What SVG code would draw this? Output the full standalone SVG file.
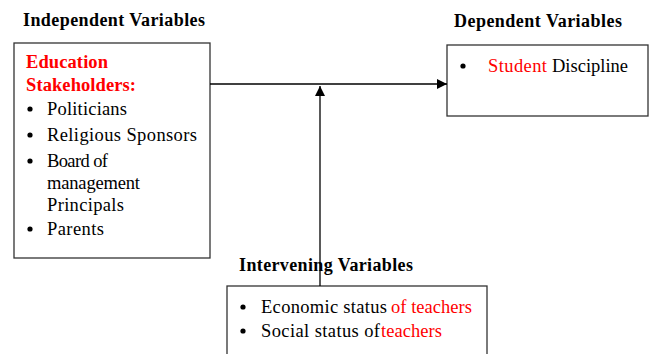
<svg xmlns="http://www.w3.org/2000/svg" width="649" height="354" viewBox="0 0 649 354">
<style>
text{font-family:"Liberation Serif","Times New Roman",serif;font-size:18.5px;fill:#000}
.h{font-weight:bold;font-size:18px}
.r{fill:#ff0000}
.box{fill:#fff;stroke:#333;stroke-width:1.3}
.ln{stroke:#000;stroke-width:1.3;fill:none}
</style>
<defs>
<marker id="ah" viewBox="0 0 10 10" refX="10" refY="5" markerWidth="10" markerHeight="10" markerUnits="userSpaceOnUse" orient="auto">
<path d="M0,0 L10,5 L0,10 z" fill="#000"/>
</marker>
</defs>
<rect width="649" height="354" fill="#fff"/>
<g id="independent">
<text class="h" x="23" y="26" textLength="182">Independent Variables</text>
<rect class="box" x="14" y="43" width="196" height="215"/>
<text class="h r" x="26" y="68" style="font-size:18.5px" textLength="82">Education</text>
<text class="h r" x="26" y="91" style="font-size:18.5px" textLength="110">Stakeholders:</text>
<circle cx="30" cy="109" r="2.6"/>
<text x="47" y="115" textLength="80">Politicians</text>
<circle cx="30" cy="135" r="2.6"/>
<text x="47" y="141" textLength="150">Religious Sponsors</text>
<circle cx="30" cy="161" r="2.6"/>
<text x="47" y="167" textLength="61">Board of</text>
<text x="47" y="189" textLength="93">management</text>
<text x="47" y="211" textLength="77">Principals</text>
<circle cx="30" cy="229" r="2.6"/>
<text x="47" y="235" textLength="57">Parents</text>
</g>
<g id="dependent">
<text class="h" x="454" y="27" textLength="168">Dependent Variables</text>
<rect class="box" x="447" y="45" width="201" height="71"/>
<circle cx="463" cy="66" r="2.6"/>
<text class="r" x="488" y="72" textLength="59">Student</text>
<text x="552" y="72" textLength="76">Discipline</text>
</g>
<g id="intervening">
<text class="h" x="239" y="271" textLength="174">Intervening Variables</text>
<rect class="box" x="227" y="286" width="260" height="80"/>
<circle cx="243" cy="307" r="2.6"/>
<text x="261" y="313" textLength="126">Economic status</text>
<text class="r" x="391" y="313" textLength="81">of teachers</text>
<circle cx="243" cy="331" r="2.6"/>
<text x="261" y="337" textLength="119">Social status of</text>
<text class="r" x="381" y="337" textLength="61">teachers</text>
</g>
<g id="connectors">
<line class="ln" x1="210" y1="84" x2="447" y2="84" marker-end="url(#ah)"/>
<line class="ln" x1="320" y1="286" x2="320" y2="86" marker-end="url(#ah)"/>
</g>
</svg>
